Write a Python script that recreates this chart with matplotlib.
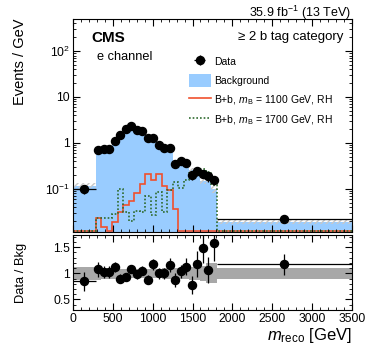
import numpy as np
import matplotlib
matplotlib.use("Agg")
import matplotlib.pyplot as plt
from matplotlib.patches import Patch
from matplotlib.lines import Line2D
from matplotlib.ticker import MultipleLocator, FixedLocator, NullFormatter, FixedFormatter

plt.rcParams['font.family'] = ['Liberation Sans', 'DejaVu Sans']
plt.rcParams['mathtext.fontset'] = 'custom'
plt.rcParams['mathtext.rm'] = 'Liberation Sans'
plt.rcParams['mathtext.it'] = 'Liberation Sans:italic'

# bin edges in GeV (first and last bins are wide)
edges = [0, 285, 354, 423, 492, 561, 630, 699, 768, 837, 906, 975, 1044, 1113,
         1182, 1251, 1320, 1389, 1458, 1527, 1596, 1665, 1734, 1803, 3500]

# events / GeV
data = [0.100, 0.71, 0.72, 0.72, 1.10, 1.52, 2.06, 2.34, 1.96, 1.82, 1.25, 1.31,
        0.92, 0.76, 0.78, 0.34, 0.40, 0.36, 0.20, 0.246, 0.216, 0.189, 0.155, 0.022]
bkg = [0.118, 0.66, 0.70, 0.70, 0.98, 1.69, 2.20, 2.18, 2.00, 1.73, 1.42, 1.12,
       0.92, 0.76, 0.67, 0.39, 0.385, 0.32, 0.256, 0.21, 0.145, 0.178, 0.098, 0.0188]
# relative background uncertainty
bkg_unc = [0.13, 0.12, 0.10, 0.10, 0.10, 0.09, 0.09, 0.09, 0.09, 0.09, 0.09, 0.09,
           0.09, 0.10, 0.10, 0.11, 0.11, 0.11, 0.12, 0.12, 0.14, 0.19, 0.19, 0.10]
# ratio error bar half lengths
ratio_err = [0.18, 0.14, 0.11, 0.11, 0.10, 0.08, 0.07, 0.07, 0.08, 0.08, 0.09, 0.11,
             0.11, 0.11, 0.13, 0.13, 0.13, 0.16, 0.17, 0.25, 0.30, 0.25, 0.35, 0.20]

sig1100 = [0, 0.023, 0.015, 0, 0.019, 0.032, 0.044, 0.054, 0.083, 0.13, 0.206, 0.155,
           0.209, 0.114, 0.094, 0.037, 0, 0, 0, 0, 0, 0, 0, 0]
sig1700 = [0, 0.023, 0.023, 0.023, 0.029, 0.097, 0.032, 0.020, 0.033, 0.032, 0.069, 0.027,
           0.086, 0.032, 0.094, 0.142, 0.107, 0.155, 0.223, 0.255, 0.277, 0.234, 0.12, 0]

edges = np.array(edges, dtype=float)
data = np.array(data)
bkg = np.array(bkg)
bkg_unc = np.array(bkg_unc)
ratio_err = np.array(ratio_err)
centers = 0.5 * (edges[1:] + edges[:-1])
halfw = 0.5 * (edges[1:] - edges[:-1])
ratio = data / bkg
data_err = data * ratio_err / ratio

ymin, ymax = 0.0115, 500
floor = 0.0119

blue = '#99ccff'
red = '#f0502d'
green = '#2f6b2f'
gray = '#a8a8a8'

fig = plt.figure(figsize=(3.74, 3.51), dpi=100)
ax = fig.add_axes([0.195, 0.339, 0.746, 0.607])
rax = fig.add_axes([0.195, 0.117, 0.746, 0.213])

ax.set_yscale('log')
ax.stairs(bkg, edges, baseline=1e-5, fill=True, color=blue, lw=0)
ax.stairs(bkg * (1 + bkg_unc), edges, baseline=bkg * (1 - bkg_unc), fill=True,
          facecolor='none', edgecolor='#c8c8c8', hatch='//////', lw=0)
ax.stairs(np.maximum(sig1100, floor), edges, baseline=None, color=red, lw=1.2)
ax.stairs(np.maximum(sig1700, floor), edges, baseline=None, color=green, lw=1.2,
          linestyle=(0, (1, 1.2)))
ax.errorbar(centers, data, xerr=halfw, yerr=data_err, fmt='o', color='k', ms=5.8,
            elinewidth=0.9, capsize=0)

ax.set_xlim(0, 3500)
ax.set_ylim(ymin, ymax)
ax.yaxis.set_major_locator(FixedLocator([0.1, 1, 10, 100]))
ax.yaxis.set_major_formatter(FixedFormatter([r'$10^{-1}$', '1', '10', r'$10^{2}$']))
minors = [m * 10.0**e for e in range(-2, 3) for m in range(2, 10)]
ax.yaxis.set_minor_locator(FixedLocator(minors))
ax.yaxis.set_minor_formatter(NullFormatter())
ax.xaxis.set_major_locator(MultipleLocator(500))
ax.xaxis.set_minor_locator(MultipleLocator(100))
ax.set_xticklabels([])
ax.set_ylabel('Events / GeV', fontsize=10.5, loc='top')
ax.yaxis.set_label_coords(-0.165, 1.0)

for a in (ax, rax):
    a.tick_params(which='both', direction='in', top=True, right=True, labelsize=8.7, pad=2)
    a.tick_params(which='major', length=5, width=0.8)
    a.tick_params(which='minor', length=2.5, width=0.6)
    for s in a.spines.values():
        s.set_linewidth(0.8)

ax.text(0.067, 0.911, 'CMS', transform=ax.transAxes, fontsize=11, fontweight='bold',
        va='center', ha='left')
ax.text(0.085, 0.823, 'e channel', transform=ax.transAxes, fontsize=9.2,
        va='center', ha='left')
ax.text(0.969, 0.914, '\u2265 2 b tag category', transform=ax.transAxes, fontsize=9.5,
        va='center', ha='right')
ax.text(0.995, 1.008, '35.9 fb$^{-1}$ (13 TeV)', transform=ax.transAxes, fontsize=9,
        va='baseline', ha='right')

data_h = ax.errorbar([], [], xerr=[], yerr=[], fmt='o', color='k', ms=5.8,
                     elinewidth=0.9, capsize=0)
handles = [data_h,
           Patch(facecolor=blue, edgecolor='none'),
           Line2D([], [], color=red, lw=1.2),
           Line2D([], [], color=green, lw=1.2, linestyle=(0, (1, 1.2)))]
labels = ['Data', 'Background', r'B+b, $m_{\mathrm{B}}$ = 1100 GeV, RH',
          r'B+b, $m_{\mathrm{B}}$ = 1700 GeV, RH']
ax.legend(handles, labels, loc='upper left', bbox_to_anchor=(0.415, 0.83),
          frameon=False, fontsize=7.5, handlelength=2.1, handleheight=1.5,
          handletextpad=0.3, labelspacing=0.62, borderpad=0, borderaxespad=0)

# ratio panel
rax.stairs(1 + bkg_unc, edges, baseline=1 - bkg_unc, fill=True, color=gray, lw=0)
rax.errorbar(centers, ratio, xerr=halfw, yerr=ratio_err, fmt='o', color='k', ms=5.8,
             elinewidth=0.9, capsize=0)
rax.set_xlim(0, 3500)
rax.set_ylim(0.3, 1.73)
rax.yaxis.set_major_locator(FixedLocator([0.5, 1, 1.5]))
rax.yaxis.set_major_formatter(FixedFormatter(['0.5', '1', '1.5']))
rax.yaxis.set_minor_locator(MultipleLocator(0.1))
rax.xaxis.set_major_locator(MultipleLocator(500))
rax.xaxis.set_minor_locator(MultipleLocator(100))
rax.set_ylabel('Data / Bkg', fontsize=9.3)
rax.yaxis.set_label_coords(-0.165, 0.5)
rax.set_xlabel(r'$m_{\mathrm{reco}}$ [GeV]', fontsize=12, loc='right', labelpad=1)

fig.savefig('out.png', dpi=100)
